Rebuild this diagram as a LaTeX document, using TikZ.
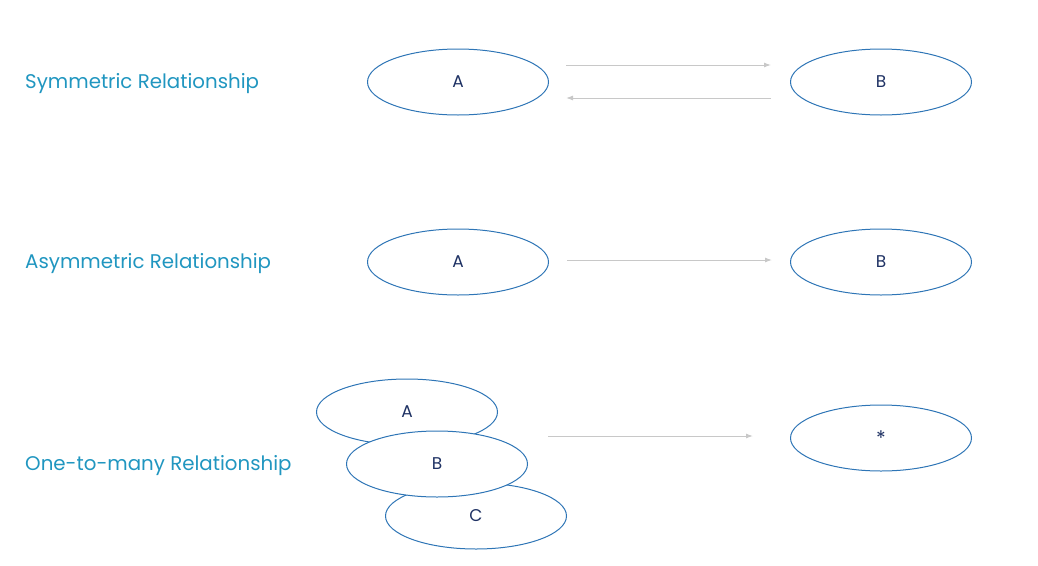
\documentclass[tikz,border=0pt]{standalone}
\usepackage{fontspec}
\setmainfont{Poppins}
\usetikzlibrary{shapes.geometric,arrows.meta}
\definecolor{ellblue}{RGB}{46,117,182}
\definecolor{lbl}{RGB}{32,150,192}
\definecolor{navy}{RGB}{31,50,100}
\definecolor{arr}{RGB}{200,200,200}
\tikzset{
  ent/.style={ellipse,draw=ellblue,line width=1pt,fill=white,minimum width=181pt,minimum height=66pt,inner sep=0pt,text=navy,font=\fontsize{17}{19}\selectfont},
  rel/.style={text=lbl,font=\fontsize{19.8}{23}\selectfont,anchor=west,inner sep=0pt},
  link/.style={draw=arr,line width=1pt,-{Latex[length=7pt,width=5pt]}}
}
\begin{document}
\begin{tikzpicture}[x=1pt,y=-1pt]
\useasboundingbox (0,0) rectangle (1038,565);
% labels
\node[rel] (l1) at (25,84) {Symmetric Relationship};
\node[rel] (l2) at (25,264) {Asymmetric Relationship};
\node[rel] (l3) at (25,466) {One-to-many Relationship};
% symmetric
\node[ent] (sa) at (458,82) {A};
\node[ent] (sb) at (881,82) {B};
\coordinate (s1a) at (566,65);
\coordinate (s1b) at (771,65);
\coordinate (s2a) at (566,98);
\coordinate (s2b) at (771,98);
\draw[link] (s1a) -- (s1b);
\draw[link] (s2b) -- (s2a);
% asymmetric
\node[ent] (aa) at (458,262) {A};
\node[ent] (ab) at (881,262) {B};
\coordinate (a1) at (567,260);
\coordinate (a2) at (772,260);
\draw[link] (a1) -- (a2);
% one-to-many
\node[ent] (ma) at (407,412) {A};
\node[ent] (mc) at (476,516) {C};
\node[ent] (mb) at (437,464) {B};
\node[ent,font=\fontsize{20}{22}\selectfont] (ms) at (881,438) {*};
\coordinate (m1) at (548,436);
\coordinate (m2) at (753,436);
\draw[link] (m1) -- (m2);
\end{tikzpicture}
\end{document}
